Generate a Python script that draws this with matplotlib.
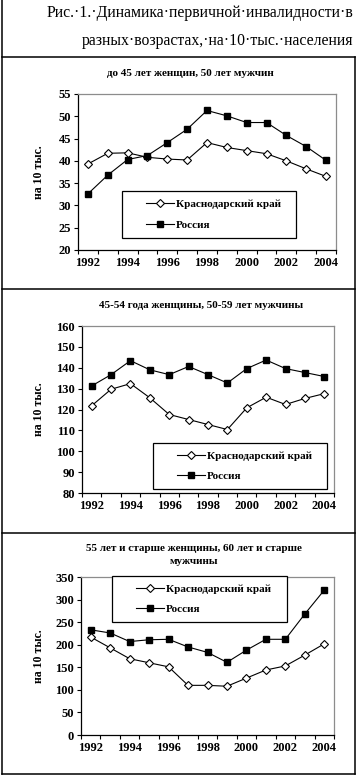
import matplotlib
matplotlib.use('Agg')
import matplotlib.pyplot as plt
from matplotlib.patches import Rectangle
from matplotlib.lines import Line2D

W, H = 358, 776

years = ['1992', '1993', '1994', '1995', '1996', '1997', '1998',
         '1999', '2000', '2001', '2002', '2003', '2004']

# до 45 лет женщин, 50 лет мужчин
kras_young = [39.3, 41.7, 41.8, 40.8, 40.4, 40.2, 44.1, 43.0, 42.3, 41.6, 40.0, 38.2, 36.5]
rus_young = [32.6, 36.8, 40.3, 41.2, 44.1, 47.1, 51.3, 50.1, 48.6, 48.6, 45.7, 43.2, 40.1]

# 45-54 года женщины, 50-59 лет мужчины
kras_mid = [121.8, 129.7, 132.4, 125.6, 117.6, 115.2, 112.8, 110.4, 120.8, 125.9, 122.4, 125.3, 127.6]
rus_mid = [131.3, 136.7, 143.4, 139.0, 136.7, 140.6, 136.7, 132.7, 139.6, 143.7, 139.6, 137.7, 135.8]

# 55 лет и старше женщины, 60 лет и старше мужчины
kras_old = [217, 193, 169, 160, 151, 110, 110, 108, 126, 144, 153, 177, 202]
rus_old = [233, 226, 207, 211, 212, 195, 183, 161, 188, 212, 212, 268, 321]

labels = ['Краснодарский край', 'Россия']

SERIF = 'Liberation Serif'


def fx(x):
    return x / W


def fy(y):
    return 1 - y / H


def rect(l, t, r, b):
    return [fx(l), fy(b), fx(r) - fx(l), fy(t) - fy(b)]


fig = plt.figure(figsize=(W / 100, H / 100), dpi=100)

# title
fig.text(fx(353), fy(17), 'Рис.·1.·Динамика·первичной·инвалидности·в',
         ha='right', va='baseline', family=SERIF, fontsize=11.3)
fig.text(fx(353), fy(45), 'разных·возрастах,·на·10·тыс.·населения',
         ha='right', va='baseline', family=SERIF, fontsize=11.3)

# frame lines
def fline(x0, y0, x1, y1):
    fig.add_artist(Line2D([fx(x0), fx(x1)], [fy(y0), fy(y1)], color='black', lw=1.1))

fline(2, 0, 2, 774)
fline(355, 57, 355, 774)
for yy in (57, 289, 533, 774):
    fline(2, yy, 355, yy)


def draw_chart(box, title, title_xy, kras, rus, ylim, step, legend_box):
    ax = fig.add_axes(rect(*box))
    x = list(range(len(years)))
    ax.plot(x, kras, color='black', lw=0.8, marker='D', ms=4.4,
            mfc='white', mec='black', mew=0.8, label=labels[0])
    ax.plot(x, rus, color='black', lw=0.8, marker='s', ms=4.8,
            mfc='black', mec='black', label=labels[1])
    ax.set_xlim(-0.5, len(years) - 0.5)
    ax.set_ylim(*ylim)
    ax.set_yticks(range(ylim[0], ylim[1] + 1, step))
    ax.set_xticks(x[::2])
    ax.set_xticklabels(years[::2])
    ax.set_xticks([i - 0.5 for i in range(len(years) + 1)], minor=True)
    ax.tick_params(axis='x', which='major', length=0, pad=5)
    ax.tick_params(axis='x', which='minor', length=3, width=0.8, direction='out')
    ax.tick_params(axis='y', length=3, width=0.8, direction='out', pad=2)
    for lab in ax.get_xticklabels() + ax.get_yticklabels():
        lab.set_family(SERIF)
        lab.set_fontweight('bold')
        lab.set_fontsize(9)
    for s in ('top', 'right'):
        ax.spines[s].set_color('#8c8c8c')
        ax.spines[s].set_linewidth(0.9)
    for s in ('left', 'bottom'):
        ax.spines[s].set_color('black')
        ax.spines[s].set_linewidth(0.9)
    ax.set_ylabel('на 10 тыс.', family=SERIF, fontweight='bold', fontsize=8.5)
    ax.yaxis.set_label_coords((45 - box[0]) / (box[2] - box[0]), 0.5)
    fig.text(fx(title_xy[0]), fy(title_xy[1]), title, ha='center', va='center',
             family=SERIF, fontweight='bold', fontsize=8, linespacing=1.5)

    # legend frame
    l, t, r, b = legend_box
    ax.add_patch(Rectangle((fx(l), fy(b)), fx(r) - fx(l), fy(t) - fy(b),
                           transform=fig.transFigure, fill=True, fc='white',
                           ec='black', lw=0.9, zorder=5, clip_on=False))
    leg = ax.legend(loc='center left', bbox_to_anchor=(fx(l + 14), fy((t + b) / 2)),
                    bbox_transform=fig.transFigure, frameon=False, numpoints=1,
                    handlelength=2.5, handletextpad=0.2, labelspacing=0.95,
                    prop={'family': SERIF, 'weight': 'bold', 'size': 8.0})
    leg.set_zorder(6)
    return ax


draw_chart((78, 94, 336, 250), 'до 45 лет женщин, 50 лет мужчин', (190, 73),
           kras_young, rus_young, (20, 55), 5, (122, 191, 296, 238))
draw_chart((82, 326, 334, 493), '45-54 года женщины, 50-59 лет мужчины', (201, 306),
           kras_mid, rus_mid, (80, 160), 10, (153, 443, 327, 489))
draw_chart((81, 577, 334, 735), '55 лет и старше женщины, 60 лет и старше\nмужчины', (194, 555),
           kras_old, rus_old, (0, 350), 50, (112, 576, 287, 622))

fig.savefig('out.png', dpi=100)
